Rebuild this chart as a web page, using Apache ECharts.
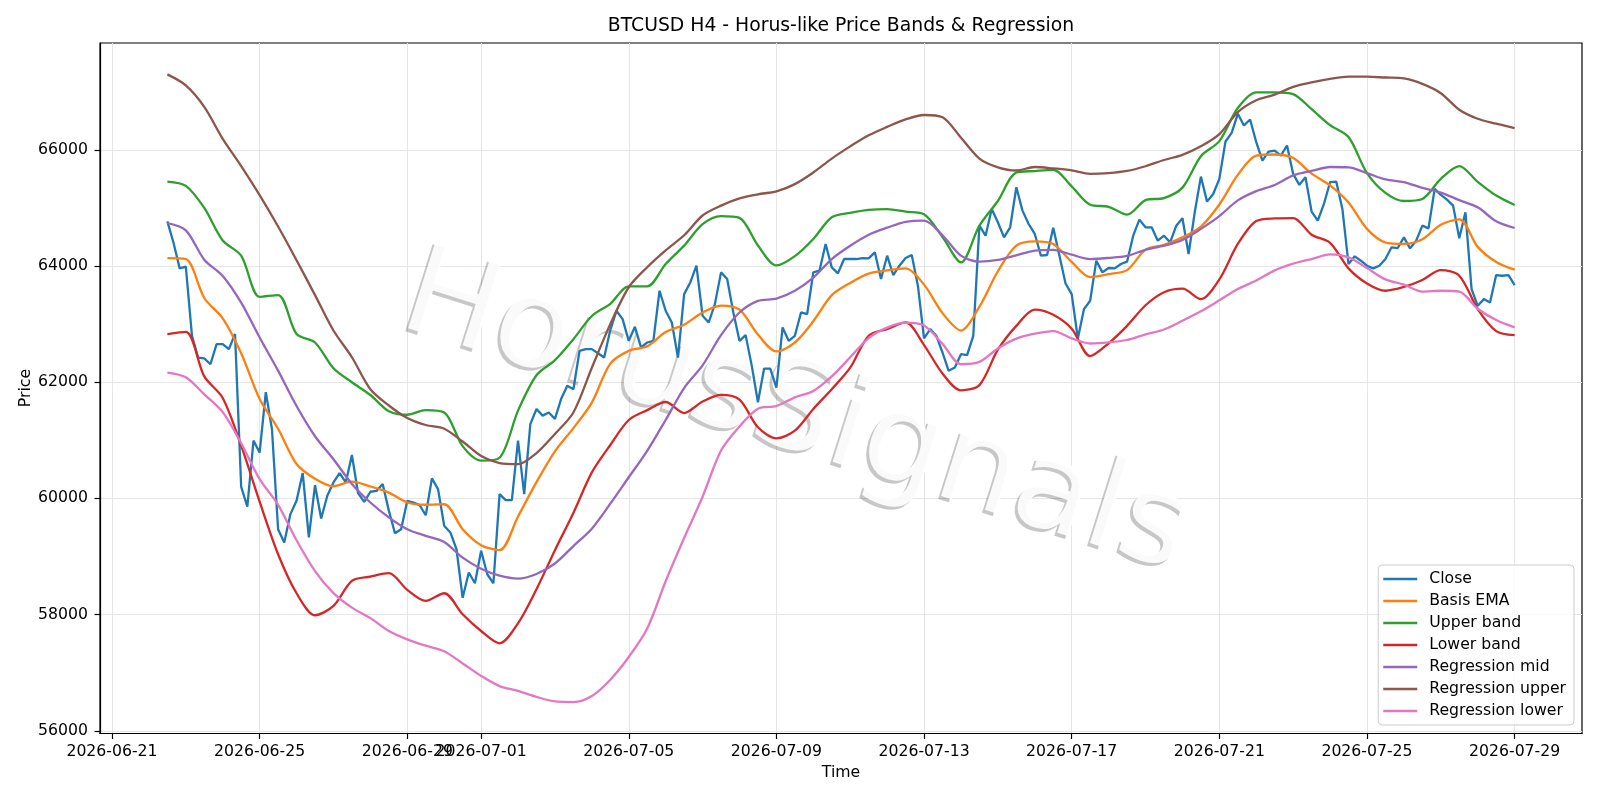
<!DOCTYPE html>
<html>
<head>
<meta charset="utf-8">
<script src="https://cdn.jsdelivr.net/npm/echarts@6/dist/echarts.min.js"></script>
<style>
html,body{margin:0;padding:0;background:#ffffff;}
#chart{width:1600px;height:800px;}
</style>
</head>
<body>
<div id="chart"></div>
<script>
// ---------------- data ----------------
const startUTC = Date.UTC(2026, 5, 22, 12, 0, 0);   // first H4 bar
const closeStepHours = 4;                           // Close: every H4 bar
const bandStepHours = 12;                           // smooth series: read every 12 h

const xTickDates = [
  [2026, 6, 21], [2026, 6, 25], [2026, 6, 29], [2026, 7, 1], [2026, 7, 5], [2026, 7, 9],
  [2026, 7, 13], [2026, 7, 17], [2026, 7, 21], [2026, 7, 25], [2026, 7, 29]
];
const yTicks = [56000, 58000, 60000, 62000, 64000, 66000];

const seriesNames = ['Close', 'Basis EMA', 'Upper band', 'Lower band',
  'Regression mid', 'Regression upper', 'Regression lower'];
const watermarkText = 'HorusSignals';

const close = [
  64770, 64400, 63960, 63990, 62800, 62425, 62410, 62310, 62655, 62655,
  62570, 62830, 60200, 59860, 60995, 60790, 61830, 61195, 59470, 59240,
  59730, 59960, 60437, 59330, 60230, 59655, 60045, 60275, 60437, 60275,
  60747, 60090, 59940, 60115, 60130, 60250, 59790, 59400, 59470, 59960,
  59930, 59885, 59710, 60345, 60160, 59530, 59415, 59125, 58290, 58725,
  58540, 59100, 58695, 58540, 60075, 59970, 59970, 60995, 60075, 61280,
  61540, 61425, 61480, 61370, 61710, 61940, 61880, 62540, 62570, 62570,
  62500, 62425, 62900, 63230, 63086, 62713, 62954, 62600, 62684, 62713,
  63575, 63230, 63029, 62425, 63517, 63718, 64006, 63144, 63029, 63345,
  63891, 63776, 63201, 62713, 62810, 62282, 61655, 62236, 62236, 61908,
  62943, 62713, 62799, 63201, 63172, 63891, 63920, 64379, 63977, 63874,
  64121, 64121, 64121, 64138, 64132, 64236, 63776, 64178, 63845, 64006,
  64138, 64190, 63661, 62753, 62914, 62799, 62512, 62196, 62253, 62483,
  62466, 62799, 64695, 64523, 64983, 64753, 64494, 64667, 65356, 64954,
  64724, 64552, 64178, 64190, 64660, 64180, 63700, 63517, 62753, 63259,
  63402, 64092, 63891, 63966, 63960, 64035, 64075, 64523, 64799, 64667,
  64667, 64437, 64523, 64408, 64695, 64822, 64207, 64925, 65540, 65109,
  65241, 65500, 66144, 66293, 66621, 66420, 66523, 66132, 65816, 65971,
  65988, 65902, 66075, 65586, 65397, 65529, 64937, 64782, 65069, 65443,
  65454, 64983, 64035, 64167, 64092, 64006, 63960, 64006, 64121, 64322,
  64310, 64494, 64305, 64437, 64695, 64649, 65328, 65224, 65144, 65040,
  64477, 64925, 63604, 63316, 63431, 63374, 63845, 63833, 63845, 63672
];

const basisEma = [
  64138, 64121, 63450, 63100, 62500, 61713, 61200, 60592, 60340, 60210,
  60290, 60205, 60100, 59930, 59891, 59900, 59471, 59195, 59110, 59690,
  60280, 60810, 61210, 61650, 62320, 62540, 62620, 62865, 62990, 63200,
  63320, 63250, 62820, 62530, 62684, 63050, 63500, 63710, 63870, 63925,
  63960, 63680, 63190, 62890, 63300, 63910, 64350, 64425, 64380, 64070,
  63810, 63860, 63930, 64282, 64365, 64494, 64680, 65060, 65570, 65900,
  65920, 65860, 65590, 65390, 65095, 64640, 64405, 64380, 64460, 64710,
  64805, 64330, 64070, 63937
];

const upperBand = [
  65454, 65380, 65000, 64440, 64178, 63470, 63500, 62830, 62684, 62240,
  62000, 61780, 61500, 61440, 61520, 61480, 60900, 60650, 60700, 61511,
  62120, 62380, 62741, 63140, 63350, 63650, 63650, 64035, 64351, 64720,
  64860, 64830, 64355, 64010, 64170, 64466, 64839, 64915, 64966, 64980,
  64935, 64890, 64500, 64063, 64695, 65120, 65610, 65635, 65655, 65370,
  65055, 65020, 64885, 65135, 65170, 65350, 65890, 66150, 66720, 66990,
  66990, 66960, 66700, 66425, 66220, 65600, 65260, 65120, 65155, 65500,
  65720, 65450, 65213, 65052
];

const lowerBand = [
  62828, 62868, 62100, 61730, 60908, 59943, 59040, 58368, 57989, 58150,
  58581, 58655, 58713, 58425, 58236, 58368, 58006, 57718, 57506, 57851,
  58437, 59110, 59750, 60448, 60920, 61350, 61520, 61660, 61470, 61667,
  61782, 61700, 61224, 61034, 61167, 61540, 61880, 62250, 62800, 62915,
  63029, 62640, 62150, 61860, 61950, 62560, 62970, 63250, 63160, 62920,
  62450, 62670, 62970, 63325, 63550, 63610, 63430, 63770, 64380, 64775,
  64820, 64825, 64540, 64400, 63960, 63700, 63575, 63640, 63760, 63930,
  63833, 63260, 62880, 62810
];

const regMid = [
  64741, 64615, 64110, 63830, 63370, 62770, 62200, 61590, 61070, 60675,
  60250, 59930, 59675, 59470, 59356, 59250, 58980, 58790, 58670, 58621,
  58700, 58880, 59180, 59480, 59910, 60365, 60820, 61350, 61900, 62290,
  62810, 63200, 63400, 63440, 63575, 63800, 64121, 64350, 64540, 64660,
  64760, 64782, 64530, 64180, 64075, 64105, 64185, 64265, 64280, 64195,
  64120, 64140, 64175, 64280, 64350, 64450, 64640, 64860, 65130, 65290,
  65395, 65560, 65638, 65705, 65700, 65600, 65490, 65445, 65345, 65265,
  65135, 65010, 64770, 64655
];

const regUpper = [
  67299, 67110, 66740, 66190, 65720, 65220, 64680, 64100, 63500, 62890,
  62430, 61880, 61600, 61385, 61264, 61200, 60980, 60730, 60609, 60590,
  60780, 61110, 61480, 62250, 63000, 63635, 63980, 64270, 64530, 64870,
  65040, 65165, 65235, 65285, 65410, 65610, 65850, 66060, 66250, 66395,
  66525, 66600, 66560, 66210, 65850, 65700, 65645, 65705, 65680, 65645,
  65586, 65600, 65637, 65718, 65825, 65914, 66060, 66270, 66650, 66855,
  66950, 67085, 67160, 67220, 67259, 67259, 67245, 67230, 67135, 66975,
  66690, 66535, 66450, 66374
];

const regLower = [
  62167, 62085, 61790, 61485, 60950, 60333, 59890, 59280, 58750, 58370,
  58120, 57940, 57720, 57575, 57465, 57370, 57160, 56945, 56770, 56688,
  56585, 56505, 56494, 56598, 56880, 57270, 57760, 58575, 59320, 60030,
  60825, 61240, 61545, 61590, 61740, 61850, 62100, 62430, 62760, 62940,
  63025, 62975, 62660, 62310, 62350, 62580, 62750, 62835, 62880, 62755,
  62667, 62685, 62727, 62825, 62908, 63058, 63220, 63410, 63605, 63750,
  63925, 64040, 64120, 64200, 64149, 63965, 63770, 63680, 63560, 63575,
  63560, 63265, 63070, 62943
];

// ---------------- helpers ----------------
const HOUR = 3600 * 1000;
function toPairs(values, stepHours) {
  return values.map((v, i) => [startUTC + i * stepHours * HOUR, v]);
}
function pad2(n) { return (n < 10 ? '0' : '') + n; }
function fmtDate(v) {
  const d = new Date(v);
  return d.getUTCFullYear() + '-' + pad2(d.getUTCMonth() + 1) + '-' + pad2(d.getUTCDate());
}

const seriesValues = [
  [close, closeStepHours], [basisEma, bandStepHours], [upperBand, bandStepHours],
  [lowerBand, bandStepHours], [regMid, bandStepHours], [regUpper, bandStepHours],
  [regLower, bandStepHours]
];
const colors = ['#1f77b4', '#ff7f0e', '#2ca02c', '#d62728', '#9467bd', '#8c564b', '#e377c2'];

// axis extents like matplotlib (5% margins around the data)
const tFirst = startUTC;
const tLast = startUTC + (close.length - 1) * closeStepHours * HOUR;
const tSpan = tLast - tFirst;
const xMin = tFirst - 0.05 * tSpan;
const xMax = tLast + 0.05 * tSpan;
const allVals = [].concat(close, basisEma, upperBand, lowerBand, regMid, regUpper, regLower);
const vMin = Math.min.apply(null, allVals), vMax = Math.max.apply(null, allVals);
const yMin = vMin - 0.05 * (vMax - vMin);
const yMax = vMax + 0.05 * (vMax - vMin);
const xTickValues = xTickDates.map(d => Date.UTC(d[0], d[1] - 1, d[2]));

const FONT = 'DejaVu Sans';
const chart = echarts.init(document.getElementById('chart'), null, {renderer: 'canvas'});

const wmX = 795, wmY = 416, wmRot = -0.305;
const option = {
  animation: false,
  backgroundColor: '#ffffff',
  color: colors,
  grid: {
    left: 100, right: 18, top: 43, bottom: 66.5,
    show: true, borderColor: '#000000', borderWidth: 1.2,
    outerBoundsMode: 'none'
  },
  graphic: [
    {
      type: 'text', z: 10, silent: true,
      style: {
        text: 'BTCUSD H4 - Horus-like Price Bands & Regression',
        x: 841, y: 26, textAlign: 'center', textVerticalAlign: 'middle',
        font: '18.8px "DejaVu Sans"', fill: '#000000'
      }
    },
    {
      type: 'text', z: 10, silent: true,
      x: 25.5, y: 388, rotation: Math.PI / 2,
      style: {
        text: 'Price', x: 0, y: 0, textAlign: 'center', textVerticalAlign: 'middle',
        font: '15.7px "DejaVu Sans"', fill: '#000000'
      }
    },
    {
      type: 'text', z: 1, silent: true,
      x: wmX - 3, y: wmY + 3, rotation: wmRot,
      style: {
        text: watermarkText, x: 0, y: 0, textAlign: 'center', textVerticalAlign: 'middle',
        font: '125px "DejaVu Sans"', fill: 'rgba(0,0,0,0.22)'
      }
    },
    {
      type: 'text', z: 1, silent: true,
      x: wmX, y: wmY, rotation: wmRot,
      style: {
        text: watermarkText, x: 0, y: 0, textAlign: 'center', textVerticalAlign: 'middle',
        font: '125px "DejaVu Sans"', fill: 'rgba(255,255,255,0.9)'
      }
    }
  ],
  legend: {
    orient: 'vertical', right: 26, bottom: 75, z: 20,
    backgroundColor: 'rgba(255,255,255,0.8)', borderColor: '#cccccc', borderWidth: 1, borderRadius: 4,
    padding: [6, 8, 6, 5], itemWidth: 34, itemHeight: 2.4, itemGap: 6.0, icon: 'rect',
    textStyle: {fontFamily: FONT, fontSize: 15.7, color: '#000000', padding: [0, 0, 0, 7]},
    data: seriesNames
  },
  xAxis: {
    type: 'value', min: xMin, max: xMax,
    name: 'Time', nameLocation: 'middle', nameGap: 31, nameMoveOverlap: false,
    nameTextStyle: {fontFamily: FONT, fontSize: 15.7, color: '#000000'},
    axisLine: {show: true, onZero: false, lineStyle: {color: '#000000', width: 1.2}},
    axisTick: {show: true, length: 5.5, lineStyle: {color: '#000000', width: 1.2}, customValues: xTickValues},
    axisLabel: {show: true, margin: 10, fontFamily: FONT, fontSize: 15.7, color: '#000000',
      customValues: xTickValues, formatter: fmtDate, hideOverlap: false},
    splitLine: {show: true, lineStyle: {color: '#e6e6e6', width: 1}}
  },
  yAxis: {
    type: 'value', min: yMin, max: yMax,
    axisLine: {show: true, onZero: false, lineStyle: {color: '#000000', width: 1.2}},
    axisTick: {show: true, length: 5.5, lineStyle: {color: '#000000', width: 1.2}, customValues: yTicks},
    axisLabel: {show: true, margin: 12, fontFamily: FONT, fontSize: 15.7, color: '#000000',
      customValues: yTicks, formatter: v => String(Math.round(v))},
    splitLine: {show: true, lineStyle: {color: '#e6e6e6', width: 1}}
  },
  series: seriesNames.map((name, idx) => ({
    name: name, type: 'line', symbol: 'none', showSymbol: false,
    smooth: idx === 0 ? false : 0.3,
    data: toPairs(seriesValues[idx][0], seriesValues[idx][1]),
    lineStyle: {width: 2.3, color: colors[idx]},
    itemStyle: {color: colors[idx]},
    emphasis: {disabled: true}, z: 2
  }))
};
chart.setOption(option);
</script>
</body>
</html>
